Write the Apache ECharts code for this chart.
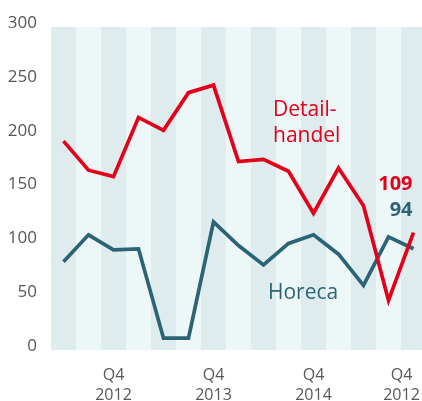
<!DOCTYPE html>
<html>
<head>
<meta charset="utf-8">
<script src="https://cdn.jsdelivr.net/npm/echarts@6/dist/echarts.min.js"></script>
<style>
  html, body { margin: 0; padding: 0; background: #fff; }
  #chart { width: 422px; height: 401px; }
</style>
</head>
<body>
<div id="chart"></div>
<script>
// quarters, Q4 labels only are shown (last one reads 2012 as in the picture)
const categories = [
  'Q2\n2012', 'Q3\n2012', 'Q4\n2012',
  'Q1\n2013', 'Q2\n2013', 'Q3\n2013', 'Q4\n2013',
  'Q1\n2014', 'Q2\n2014', 'Q3\n2014', 'Q4\n2014',
  'Q1\n2015', 'Q2\n2015', 'Q3\n2015', 'Q4\n2012'
]
const detailhandel = [194, 167, 161, 216, 204, 239, 246, 175, 177, 166, 127, 169, 134, 46, 109]
const horeca = [82, 107, 93, 94, 11, 11, 119, 97, 79, 99, 107, 89, 60, 105, 94]
const yTicks = [0, 50, 100, 150, 200, 250, 300]

const RED = '#e2001a'
const TEAL = '#2c6477'
const GREY = '#575757'
const FONT = 'Open Sans'

const chart = echarts.init(document.getElementById('chart'))
const option = {
  animation: false,
  grid: { left: 51, top: 27, width: 375, bottom: 51, outerBoundsMode: 'none', containLabel: false },
  xAxis: {
    type: 'category',
    data: categories,
    boundaryGap: true,
    axisLine: { show: false },
    axisTick: { show: false },
    splitArea: {
      show: true,
      interval: 0,
      areaStyle: { color: ['#deecee', '#eef7f7'] }
    },
    axisLabel: {
      interval: (i) => i % 4 === 2,
      margin: 15,
      fontFamily: FONT,
      fontSize: 16,
      lineHeight: 20,
      color: GREY,
      formatter: (v, i) => i === categories.length - 1 ? '{e|' + v + '}' : v,
      rich: {
        e: { fontFamily: FONT, fontSize: 16, lineHeight: 20, color: GREY, padding: [0, 24, 0, 0], align: 'center' }
      }
    }
  },
  yAxis: {
    type: 'value',
    min: yTicks[0],
    max: yTicks[yTicks.length - 1],
    interval: 50,
    splitLine: { show: false },
    axisLine: { show: false },
    axisTick: { show: false },
    axisLabel: {
      margin: 14,
      fontFamily: FONT,
      fontSize: 17,
      color: GREY,
      verticalAlign: 'bottom',
      lineHeight: 8
    }
  },
  series: [
    {
      name: 'Detailhandel',
      type: 'line',
      data: detailhandel,
      symbol: 'none',
      lineStyle: { color: RED, width: 3.7, join: 'miter' },
      endLabel: {
        show: true,
        formatter: '{c}',
        align: 'right',
        verticalAlign: 'middle',
        offset: [-9, -48],
        fontFamily: FONT,
        fontWeight: 'bold',
        fontSize: 20,
        color: RED
      },
      z: 3
    },
    {
      name: 'Horeca',
      type: 'line',
      data: horeca,
      symbol: 'none',
      lineStyle: { color: TEAL, width: 3.7, join: 'miter' },
      endLabel: {
        show: true,
        formatter: '{c}',
        align: 'right',
        verticalAlign: 'middle',
        offset: [-9, -38],
        fontFamily: FONT,
        fontWeight: 'bold',
        fontSize: 20,
        color: TEAL
      },
      z: 2
    }
  ],
  graphic: [
    {
      type: 'text',
      left: 273,
      top: 97,
      z: 100,
      style: {
        text: 'Detail-\nhandel',
        fill: RED,
        fontFamily: FONT,
        fontSize: 21,
        lineHeight: 26,
        textAlign: 'left'
      }
    },
    {
      type: 'text',
      left: 268,
      top: 283,
      z: 100,
      style: {
        text: 'Horeca',
        fill: TEAL,
        fontFamily: FONT,
        fontSize: 21
      }
    }
  ]
}
chart.setOption(option)
</script>
</body>
</html>
